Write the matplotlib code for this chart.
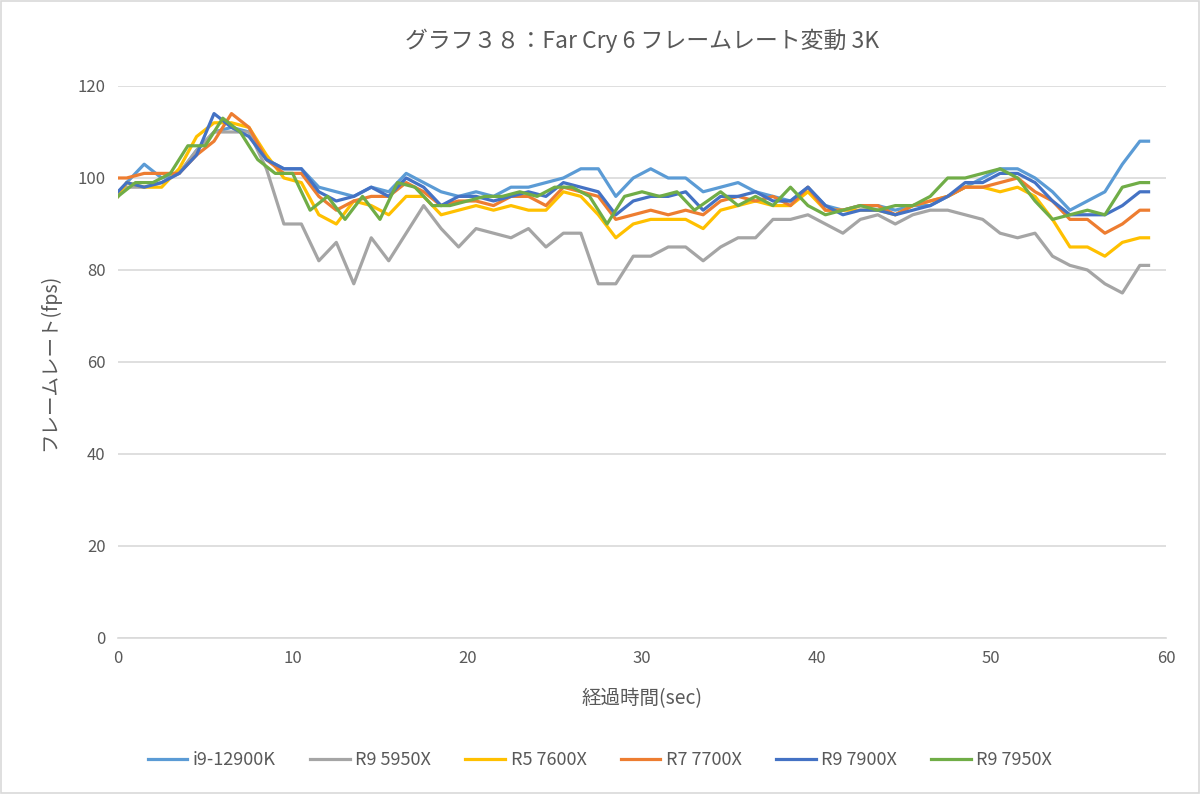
import matplotlib
matplotlib.use("Agg")
import matplotlib.pyplot as plt
from matplotlib.patches import Rectangle

plt.rcParams['font.family'] = ['Noto Sans CJK JP', 'DejaVu Sans']

# time axis (sec) - most logs sample at half-second offsets
sec = [0] + [k + 0.5 for k in range(59)] + [59]
# R9 7950X log is on whole seconds until ~33s, then shifts by half a second
sec_7950x = list(range(34)) + [k + 0.5 for k in range(34, 59)] + [59]

i9_12900k = [96, 99, 103, 100, 101, 106, 110, 111, 110, 104, 102, 102, 98, 97, 96, 98, 97, 101, 99, 97,
             96, 97, 96, 98, 98, 99, 100, 102, 102, 96, 100, 102, 100, 100, 97, 98, 99, 97, 96, 95,
             98, 94, 93, 94, 94, 93, 94, 94, 96, 98, 100, 102, 102, 100, 97, 93, 95, 97, 103, 108, 108]
r9_5950x = [96, 98, 98, 99, 101, 106, 110, 110, 110, 102, 90, 90, 82, 86, 77, 87, 82, 88, 94, 89,
            85, 89, 88, 87, 89, 85, 88, 88, 77, 77, 83, 83, 85, 85, 82, 85, 87, 87, 91, 91,
            92, 90, 88, 91, 92, 90, 92, 93, 93, 92, 91, 88, 87, 88, 83, 81, 80, 77, 75, 81, 81]
r5_7600x = [96, 99, 98, 98, 102, 109, 112, 112, 111, 105, 100, 99, 92, 90, 95, 94, 92, 96, 96, 92,
            93, 94, 93, 94, 93, 93, 97, 96, 92, 87, 90, 91, 91, 91, 89, 93, 94, 95, 94, 94,
            97, 93, 93, 93, 93, 92, 94, 95, 96, 98, 98, 97, 98, 96, 91, 85, 85, 83, 86, 87, 87]
r7_7700x = [100, 100, 101, 101, 101, 105, 108, 114, 111, 104, 101, 101, 96, 93, 95, 96, 96, 99, 97, 94,
            95, 95, 94, 96, 96, 94, 98, 97, 96, 91, 92, 93, 92, 93, 92, 95, 96, 95, 96, 94,
            98, 93, 93, 94, 94, 92, 94, 95, 96, 98, 98, 99, 100, 97, 95, 91, 91, 88, 90, 93, 93]
r9_7900x = [97, 99, 98, 99, 101, 105, 114, 111, 109, 104, 102, 102, 97, 95, 96, 98, 96, 100, 98, 94,
            96, 96, 95, 96, 97, 96, 99, 98, 97, 92, 95, 96, 96, 97, 93, 96, 96, 97, 95, 95,
            98, 94, 92, 93, 93, 92, 93, 94, 96, 99, 99, 101, 101, 99, 95, 92, 92, 92, 94, 97, 97]
r9_7950x = [96, 99, 99, 101, 107, 107, 113, 110, 104, 101, 101, 93, 96, 91, 96, 91, 99, 98, 94, 94,
            95, 96, 96, 97, 96, 98, 98, 96, 90, 96, 97, 96, 97, 93, 97, 94, 96, 94, 98, 94,
            92, 93, 94, 93, 94, 94, 96, 100, 100, 101, 102, 100, 95, 91, 92, 93, 92, 98, 99, 99]

labels = ['i9-12900K', 'R9 5950X', 'R5 7600X', 'R7 7700X', 'R9 7900X', 'R9 7950X']
colors = ['#5B9BD5', '#A5A5A5', '#FFC000', '#ED7D31', '#4472C4', '#70AD47']
series = [(sec, i9_12900k), (sec, r9_5950x), (sec, r5_7600x),
          (sec, r7_7700x), (sec, r9_7900x), (sec_7950x, r9_7950x)]

txt = '#595959'
fig = plt.figure(figsize=(12, 7.94), dpi=100)
ax = fig.add_axes([0.0983, 0.1965, 0.8734, 0.6952])

for (x, y), lab, c in zip(series, labels, colors):
    ax.plot(x, y, color=c, lw=2.3, label=lab, solid_joinstyle='round')

ax.set_xlim(0, 60)
ax.set_ylim(0, 120)
ax.set_xticks(range(0, 61, 10))
ax.set_yticks(range(0, 121, 20))
ax.grid(axis='y', color='#d9d9d9', lw=1.2)
ax.set_axisbelow(True)
for s in ['top', 'right', 'left']:
    ax.spines[s].set_visible(False)
ax.spines['bottom'].set_color('#d9d9d9')
ax.spines['bottom'].set_linewidth(1.2)
ax.tick_params(length=0, labelsize=12, colors=txt, pad=9)

ax.set_title('グラフ３８：Far Cry 6 フレームレート変動 3K', fontsize=16.5, color=txt, pad=27)
ax.set_xlabel('経過時間(sec)', fontsize=14, color=txt, labelpad=15)
ax.set_ylabel('フレームレート(fps)', fontsize=14, color=txt, labelpad=12)

fig.legend(loc='center', bbox_to_anchor=(0.5, 0.043), ncol=6, frameon=False,
           fontsize=13, handlelength=2.2, columnspacing=1.9, handletextpad=0.3,
           labelcolor=txt)

fig.patches.append(Rectangle((0.001, 0.001), 0.998, 0.998, transform=fig.transFigure,
                             fill=False, edgecolor='#d9d9d9', lw=1.2))

fig.savefig('out.png', dpi=100)
